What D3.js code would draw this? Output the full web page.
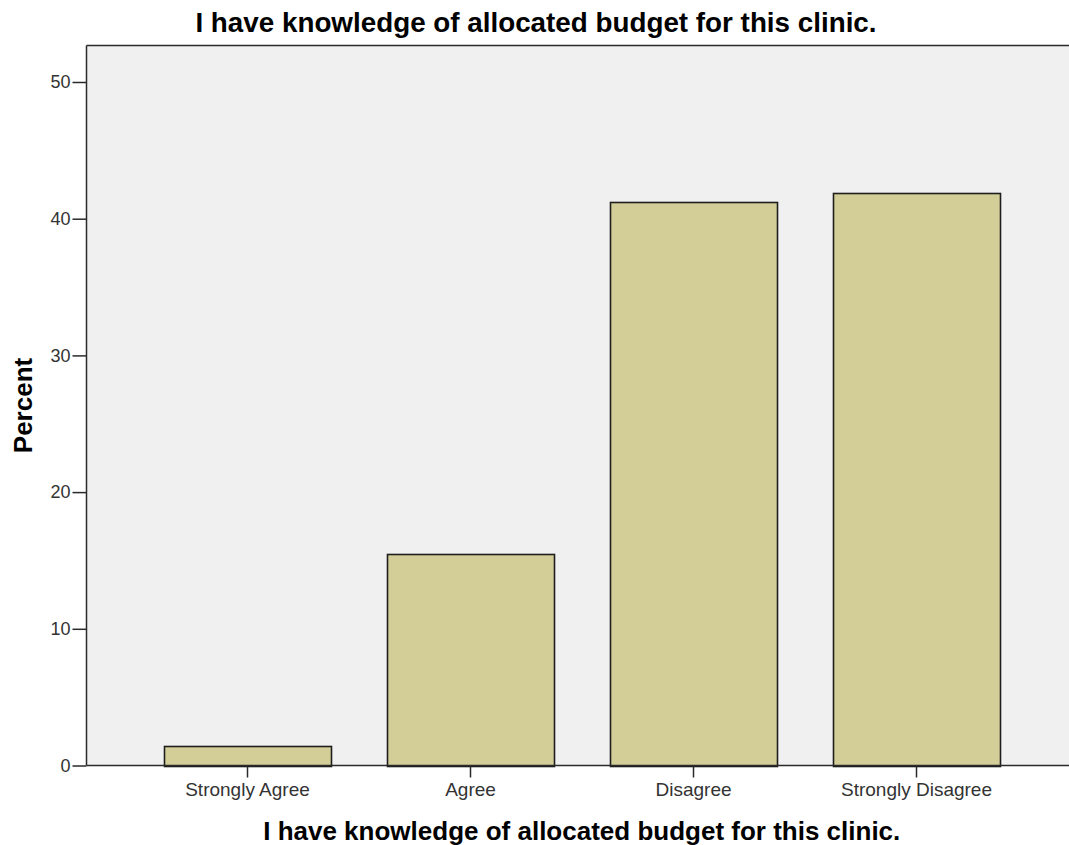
<!DOCTYPE html>
<html>
<head>
<meta charset="utf-8">
<script src="https://cdn.jsdelivr.net/npm/d3@7"></script>
<style>
  html, body { margin: 0; padding: 0; background: #ffffff; }
  svg { display: block; }
</style>
</head>
<body>
<script>
const title = "I have knowledge of allocated budget for this clinic.";
const xAxisLabel = "I have knowledge of allocated budget for this clinic.";
const yAxisLabel = "Percent";
const categories = ["Strongly Agree", "Agree", "Disagree", "Strongly Disagree"];
const percents = [1.4, 15.5, 41.2, 41.9];
const yTicks = [0, 10, 20, 30, 40, 50];

const W = 1069, H = 845;
const plot = { left: 86.5, top: 45.5, right: 1069, bottom: 765.5 };

const svg = d3.select("body").append("svg").attr("width", W).attr("height", H);

const y = d3.scaleLinear().domain([0, 52.67]).range([plot.bottom, plot.top]);
const x = d3.scaleBand().domain(categories).range([136, 1028])
  .paddingInner(0.25).paddingOuter(0.125);

// plot background
svg.append("rect")
  .attr("x", plot.left).attr("y", plot.top)
  .attr("width", plot.right - plot.left).attr("height", plot.bottom - plot.top)
  .attr("fill", "#f0f0f0");

// bars
svg.append("g").selectAll("rect").data(categories).join("rect")
  .attr("x", d => Math.round(x(d)) + 0.5)
  .attr("y", (d, i) => Math.round(y(percents[i])) + 0.5)
  .attr("width", Math.round(x.bandwidth()))
  .attr("height", (d, i) => Math.round(y(0)) - Math.round(y(percents[i])))
  .attr("fill", "#d3ce98")
  .attr("stroke", "#1e1e1e")
  .attr("stroke-width", 1.6);

// frame: top and left lines
svg.append("line").attr("x1", plot.left).attr("x2", plot.right)
  .attr("y1", plot.top).attr("y2", plot.top)
  .attr("stroke", "#2a2a2a").attr("stroke-width", 1.5);

// y axis
const yAxis = d3.axisLeft(y).tickValues(yTicks).tickSize(14).tickPadding(2).tickFormat(d3.format("d"));
const gy = svg.append("g").attr("transform", `translate(${plot.left},0)`).call(yAxis);
gy.select(".domain").attr("d", `M0,${plot.top}V${plot.bottom}`).attr("stroke", "#2a2a2a").attr("stroke-width", 1.5);
gy.selectAll(".tick line").attr("stroke", "#2a2a2a").attr("stroke-width", 1.5);
gy.selectAll(".tick text").attr("fill", "#333").style("font-family", "'Liberation Sans', Arial, sans-serif").style("font-size", "18px");

// x axis
const xAxis = d3.axisBottom(x).tickSize(12).tickPadding(5);
const gx = svg.append("g").attr("transform", `translate(0,${plot.bottom})`).call(xAxis);
gx.select(".domain").attr("d", `M${plot.left},0H${plot.right}`).attr("stroke", "#2a2a2a").attr("stroke-width", 1.5);
gx.selectAll(".tick line").attr("stroke", "#2a2a2a").attr("stroke-width", 1.5);
gx.selectAll(".tick text").attr("fill", "#333").style("font-family", "'Liberation Sans', Arial, sans-serif").style("font-size", "19px");

// title
svg.append("text").attr("x", 536).attr("y", 32)
  .attr("text-anchor", "middle")
  .style("font-family", "'Liberation Sans', Arial, sans-serif")
  .style("font-weight", "bold").style("font-size", "27.8px").attr("fill", "#000")
  .text(title);

// x axis label
svg.append("text").attr("x", (plot.left + plot.right) / 2 + 4).attr("y", 840)
  .attr("text-anchor", "middle")
  .style("font-family", "'Liberation Sans', Arial, sans-serif")
  .style("font-weight", "bold").style("font-size", "26px").attr("fill", "#000")
  .text(xAxisLabel);

// y axis label
svg.append("text")
  .attr("transform", `translate(32,${(plot.top + plot.bottom) / 2}) rotate(-90)`)
  .attr("text-anchor", "middle")
  .style("font-family", "'Liberation Sans', Arial, sans-serif")
  .style("font-weight", "bold").style("font-size", "26px").attr("fill", "#000")
  .text(yAxisLabel);
</script>
</body>
</html>
